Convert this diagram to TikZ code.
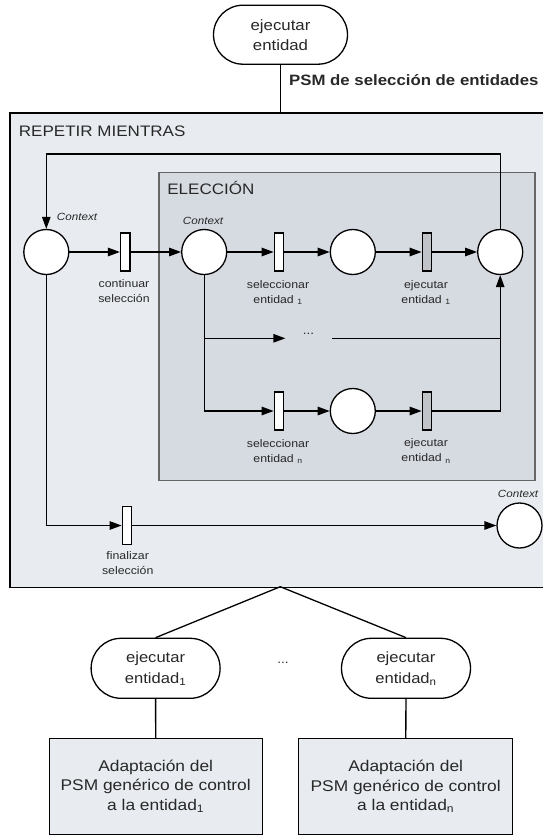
\documentclass[tikz,border=0pt]{standalone}
\usepackage{fontspec}
\setmainfont[FakeStretch=1.12]{Liberation Sans}
\usetikzlibrary{arrows.meta,shapes.misc}
\definecolor{outerfill}{HTML}{E8ECF0}
\definecolor{innerfill}{HTML}{D6DAE1}
\definecolor{barfill}{HTML}{C0C4C8}
\definecolor{txt}{HTML}{282828}
\tikzset{
  place/.style={circle, draw, fill=white, minimum size=45pt, inner sep=0pt},
  trans/.style={rectangle, draw, fill=white, minimum width=9.5pt, minimum height=38pt, inner sep=0pt},
  etrans/.style={trans, fill=barfill},
  lbl/.style={font=\fontsize{11}{15}\selectfont, text=txt, align=center, inner sep=0pt},
  ctx/.style={font=\fontsize{10.4}{12}\selectfont\itshape, text=txt, inner sep=0pt},
  oval/.style={rounded rectangle, draw, fill=white, minimum width=129pt, minimum height=60pt, align=center, font=\fontsize{14.8}{21}\selectfont, text=txt, inner sep=0pt},
  adbox/.style={rectangle, draw, fill=outerfill, minimum width=213pt, minimum height=96pt, align=center, font=\fontsize{15.5}{19.5}\selectfont, text=txt, inner sep=0pt},
  title/.style={font=\fontsize{15.2}{18}\selectfont, text=txt, inner sep=0pt, anchor=base west},
}
\begin{document}
\begin{tikzpicture}[x=1pt, y=-1pt, line width=1.3pt, >={Triangle[length=12pt,width=8.5pt]}]
\useasboundingbox (0,0) rectangle (542,835);
% top oval
\node[oval, minimum width=134pt, minimum height=59pt, font=\fontsize{15}{20}\selectfont] (top) at (280.5,34.7) {ejecutar\\entidad};
% containers
\node[draw, fill=outerfill, minimum width=545pt, minimum height=474.4pt, inner sep=0pt, anchor=north west] (rep) at (9.3,112.3) {};
\node[title] (reptitle) at (18.3,136) {REPETIR MIENTRAS};
\node[draw=black!60, fill=innerfill, minimum width=376pt, minimum height=308.3pt, inner sep=0pt, anchor=north west] (ele) at (158.3,171.7) {};
\node[title] (eletitle) at (166.7,194.3) {ELECCIÓN};
\draw (top.south) -- (top.south |- rep.north);
\node[font=\fontsize{15}{18}\selectfont\bfseries, text=txt, anchor=base west, inner sep=0pt] (psm) at (288.5,85.3) {PSM de selección de entidades};
% places
\node[place] (p1) at (46.3,252) {};
\node[place] (p2) at (204.2,252) {};
\node[place] (p3) at (352.8,252) {};
\node[place] (p4) at (500.2,252) {};
\node[place] (pn) at (352.8,411) {};
\node[place] (pe) at (519.5,525.5) {};
% transitions
\node[trans] (t1) at (125.3,252) {};
\node[trans] (t2) at (279,252) {};
\node[etrans] (t3) at (427,252) {};
\node[trans] (tn1) at (279,411) {};
\node[etrans] (tn2) at (427,411) {};
\node[trans] (tf) at (127,525.5) {};
% context labels
\node[ctx] (c1) at (77,217) {Context};
\node[ctx] (c2) at (203,220.5) {Context};
\node[ctx] (c3) at (518,494) {Context};
% transition labels
\node[lbl] (l1) at (124,291.5) {continuar\\selección};
\node[lbl] (l2) at (278,292.5) {seleccionar\\entidad \textsubscript{1}};
\node[lbl] (l3) at (426,292.5) {ejecutar\\entidad \textsubscript{1}};
\node[lbl] (l4) at (278,451.5) {seleccionar\\entidad \textsubscript{n}};
\node[lbl] (l5) at (426,451.3) {ejecutar\\entidad \textsubscript{n}};
\node[lbl] (l6) at (127.7,563) {finalizar\\selección};
% main row
\draw[->] (p1) -- (t1);
\draw[->] (t1) -- (p2);
\draw[->] (p2) -- (t2);
\draw[->] (t2) -- (p3);
\draw[->] (p3) -- (t3);
\draw[->] (t3) -- (p4);
% loop back
\coordinate (lp) at (46.3,154);
\draw[->] (p4.north) |- (lp) -- (p1.north);
% branch n
\draw[->] (p2.south) |- (tn1.west);
\draw[->] (tn1) -- (pn);
\draw[->] (pn) -- (tn2);
\draw[->] (tn2.east) -| (p4.south);
% middle dots branch
\coordinate (m1) at (204.2,338.3);
\node[lbl, minimum width=45pt, font=\fontsize{12}{14}\selectfont] (dots) at (308.5,334) {...};
\draw[->] (m1) -- (dots.west |- m1);
\draw (dots.east |- m1) -- (p4.south |- m1);
% finalize
\draw[->] (p1.south) |- (tf.west);
\draw[->] (tf) -- (pe);
% bottom tree
\coordinate (apex) at (280.3,586.7);
\node[oval] (o1) at (155.6,668.3) {ejecutar\\entidad\textsubscript{1}};
\node[oval] (on) at (406,668.3) {ejecutar\\entidad\textsubscript{n}};
\node[lbl, font=\fontsize{12}{14}\selectfont] (bdots) at (283,663) {...};
\draw (o1.north) -- (apex) -- (on.north);
\node[adbox] (b1) at (155.7,786.5) {Adaptación del\\PSM genérico de control\\a la entidad\textsubscript{1}};
\node[adbox, minimum width=214pt] (bn) at (405.7,786.5) {Adaptación del\\PSM genérico de control\\a la entidad\textsubscript{n}};
\draw (o1) -- (b1);
\draw (on) -- (bn);
\end{tikzpicture}
\end{document}
